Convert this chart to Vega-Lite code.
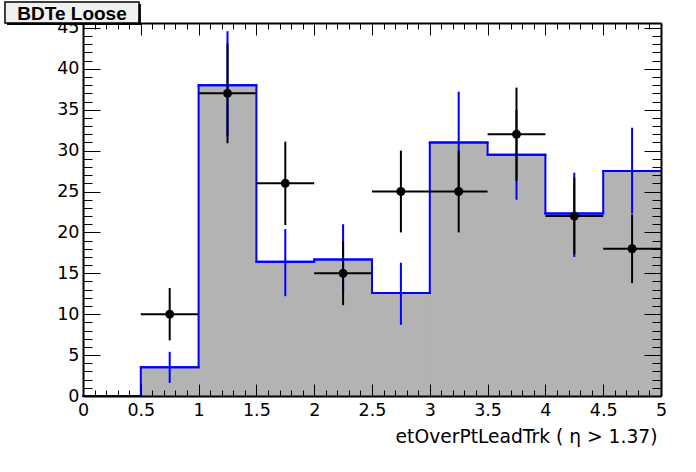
{
  "$schema": "https://vega.github.io/schema/vega-lite/v6.json",
  "width": 578,
  "height": 373,
  "autosize": "none",
  "padding": {"left": 83, "top": 23, "right": 35, "bottom": 76},
  "background": "white",
  "config": {"view": {"stroke": null}, "font": "Liberation Sans"},
  "datasets": {
    "mc": [
      {"lo": 0, "hi": 0.5, "x": 0.25, "value": 0, "errLo": 0, "errHi": 0},
      {"lo": 0.5, "hi": 1, "x": 0.75, "value": 3.5, "errLo": 1.6, "errHi": 5.4},
      {"lo": 1, "hi": 1.5, "x": 1.25, "value": 38, "errLo": 31.8, "errHi": 44.6},
      {"lo": 1.5, "hi": 2, "x": 1.75, "value": 16.4, "errLo": 12.2, "errHi": 20.4},
      {"lo": 2, "hi": 2.5, "x": 2.25, "value": 16.7, "errLo": 12.6, "errHi": 21.0},
      {"lo": 2.5, "hi": 3, "x": 2.75, "value": 12.6, "errLo": 8.7, "errHi": 16.3},
      {"lo": 3, "hi": 3.5, "x": 3.25, "value": 31.0, "errLo": 25.4, "errHi": 37.2},
      {"lo": 3.5, "hi": 4, "x": 3.75, "value": 29.5, "errLo": 24.0, "errHi": 35.0},
      {"lo": 4, "hi": 4.5, "x": 4.25, "value": 22.3, "errLo": 17.0, "errHi": 27.3},
      {"lo": 4.5, "hi": 5, "x": 4.75, "value": 27.5, "errLo": 22.3, "errHi": 32.8}
    ],
    "obs": [
      {"lo": 0.5, "hi": 1, "x": 0.75, "value": 10, "errLo": 6.8, "errHi": 13.2},
      {"lo": 1, "hi": 1.5, "x": 1.25, "value": 37, "errLo": 30.9, "errHi": 43.1},
      {"lo": 1.5, "hi": 2, "x": 1.75, "value": 26, "errLo": 20.9, "errHi": 31.1},
      {"lo": 2, "hi": 2.5, "x": 2.25, "value": 15, "errLo": 11.1, "errHi": 18.9},
      {"lo": 2.5, "hi": 3, "x": 2.75, "value": 25, "errLo": 20.0, "errHi": 30.0},
      {"lo": 3, "hi": 3.5, "x": 3.25, "value": 25, "errLo": 20.0, "errHi": 30.0},
      {"lo": 3.5, "hi": 4, "x": 3.75, "value": 32, "errLo": 26.3, "errHi": 37.7},
      {"lo": 4, "hi": 4.5, "x": 4.25, "value": 22, "errLo": 17.3, "errHi": 26.7},
      {"lo": 4.5, "hi": 5, "x": 4.75, "value": 18, "errLo": 13.8, "errHi": 22.2}
    ]
  },
  "layer": [
    {
      "data": {"name": "mc"},
      "mark": {"type": "rect", "fill": "#b3b3b3", "stroke": "#b3b3b3", "strokeWidth": 1},
      "encoding": {
        "x": {"field": "lo", "type": "quantitative", "scale": {"domain": [0, 5], "nice": false, "zero": false},
          "axis": {"orient": "bottom", "zindex": 1, "grid": false,
            "values": [0,0.1,0.2,0.3,0.4,0.5,0.6,0.7,0.8,0.9,1,1.1,1.2,1.3,1.4,1.5,1.6,1.7,1.8,1.9,2,2.1,2.2,2.3,2.4,2.5,2.6,2.7,2.8,2.9,3,3.1,3.2,3.3,3.4,3.5,3.6,3.7,3.8,3.9,4,4.1,4.2,4.3,4.4,4.5,4.6,4.7,4.8,4.9,5],
            "tickSize": {"condition": {"test": "abs(datum.value*2-round(datum.value*2))<0.001", "value": -12}, "value": -6},
            "tickColor": "black", "tickWidth": 1,
            "domainColor": "black", "domainWidth": 2,
            "labelExpr": "abs(datum.value*2-round(datum.value*2))<0.001 ? ''+datum.value : ''",
            "labelFont": "DejaVu Sans", "labelFontSize": 17.5, "labelColor": "black", "labelPadding": 17,
            "labelFlush": false, "labelOverlap": false, "labelBound": false,
            "title": "etOverPtLeadTrk ( η > 1.37)", "titleFont": "DejaVu Sans", "titleFontSize": 18.7, "titleFontWeight": "normal", "titleColor": "black",
            "titleAlign": "right", "titleAnchor": "end", "titleX": 574, "titleY": 46, "titleBaseline": "alphabetic"}},
        "x2": {"field": "hi"},
        "y": {"field": "value", "type": "quantitative", "scale": {"domain": [0, 45.6], "nice": false},
          "axis": {"orient": "left", "zindex": 0, "grid": false,
            "values": [0,1,2,3,4,5,6,7,8,9,10,11,12,13,14,15,16,17,18,19,20,21,22,23,24,25,26,27,28,29,30,31,32,33,34,35,36,37,38,39,40,41,42,43,44,45],
            "tickSize": {"condition": {"test": "datum.value % 5 == 0", "value": -17}, "value": -9},
            "tickColor": "black", "tickWidth": 1,
            "domainColor": "black", "domainWidth": 2,
            "labelExpr": "datum.value % 5 == 0 ? ''+datum.value : ''",
            "labelFont": "DejaVu Sans", "labelFontSize": 17.5, "labelColor": "black", "labelPadding": 21,
            "labelFlush": false, "labelOverlap": false, "labelBound": false,
            "title": null}},
        "y2": {"datum": 0}
      }
    },
    {
      "data": {"name": "mc"},
      "mark": {"type": "line", "color": "#0000ff", "strokeWidth": 2, "interpolate": "step"},
      "encoding": {
        "x": {"field": "x", "type": "quantitative", "scale": {"domain": [0, 5], "nice": false, "zero": false},
          "axis": {"orient": "top", "zindex": 0, "grid": false,
            "values": [0,0.1,0.2,0.3,0.4,0.5,0.6,0.7,0.8,0.9,1,1.1,1.2,1.3,1.4,1.5,1.6,1.7,1.8,1.9,2,2.1,2.2,2.3,2.4,2.5,2.6,2.7,2.8,2.9,3,3.1,3.2,3.3,3.4,3.5,3.6,3.7,3.8,3.9,4,4.1,4.2,4.3,4.4,4.5,4.6,4.7,4.8,4.9,5],
            "tickSize": {"condition": {"test": "abs(datum.value*2-round(datum.value*2))<0.001", "value": -12}, "value": -6},
            "tickColor": "black", "tickWidth": 1,
            "domainColor": "black", "domainWidth": 2,
            "labels": false, "title": null}},
        "y": {"field": "value", "type": "quantitative", "scale": {"domain": [0, 45.6], "nice": false},
          "axis": {"orient": "right", "zindex": 1, "grid": false,
            "values": [0,1,2,3,4,5,6,7,8,9,10,11,12,13,14,15,16,17,18,19,20,21,22,23,24,25,26,27,28,29,30,31,32,33,34,35,36,37,38,39,40,41,42,43,44,45],
            "tickSize": {"condition": {"test": "datum.value % 5 == 0", "value": -17}, "value": -9},
            "tickColor": "black", "tickWidth": 1,
            "domainColor": "black", "domainWidth": 2,
            "labels": false, "title": null}}
      }
    },
    {
      "data": {"name": "mc"},
      "mark": {"type": "rule", "color": "#0000ff", "strokeWidth": 2, "strokeCap": "square"},
      "encoding": {
        "x": {"field": "lo", "type": "quantitative", "scale": {"domain": [0, 5], "nice": false, "zero": false}, "axis": null},
        "x2": {"field": "hi"},
        "y": {"field": "value", "type": "quantitative", "scale": {"domain": [0, 45.6], "nice": false}, "axis": null}
      }
    },
    {
      "data": {"name": "mc"},
      "mark": {"type": "rule", "color": "#0000ff", "strokeWidth": 2},
      "encoding": {
        "x": {"field": "x", "type": "quantitative", "scale": {"domain": [0, 5], "nice": false, "zero": false}, "axis": null},
        "y": {"field": "errLo", "type": "quantitative", "scale": {"domain": [0, 45.6], "nice": false}, "axis": null},
        "y2": {"field": "errHi"}
      }
    },
    {
      "data": {"name": "obs"},
      "mark": {"type": "rule", "color": "black", "strokeWidth": 2},
      "encoding": {
        "x": {"field": "x", "type": "quantitative", "scale": {"domain": [0, 5], "nice": false, "zero": false}, "axis": null},
        "y": {"field": "errLo", "type": "quantitative", "scale": {"domain": [0, 45.6], "nice": false}, "axis": null},
        "y2": {"field": "errHi"}
      }
    },
    {
      "data": {"name": "obs"},
      "mark": {"type": "rule", "color": "black", "strokeWidth": 2},
      "encoding": {
        "x": {"field": "lo", "type": "quantitative", "scale": {"domain": [0, 5], "nice": false, "zero": false}, "axis": null},
        "x2": {"field": "hi"},
        "y": {"field": "value", "type": "quantitative", "scale": {"domain": [0, 45.6], "nice": false}, "axis": null}
      }
    },
    {
      "data": {"name": "obs"},
      "mark": {"type": "point", "filled": true, "color": "black", "opacity": 1, "size": 80},
      "encoding": {
        "x": {"field": "x", "type": "quantitative", "scale": {"domain": [0, 5], "nice": false, "zero": false}, "axis": null},
        "y": {"field": "value", "type": "quantitative", "scale": {"domain": [0, 45.6], "nice": false}, "axis": null}
      }
    },
    {
      "data": {"values": [{"label": "BDTe Loose"}]},
      "mark": {"type": "rect", "color": "black"},
      "encoding": {
        "x": {"datum": -0.658, "type": "quantitative", "scale": {"domain": [0, 5], "nice": false, "zero": false}, "axis": null},
        "x2": {"datum": 0.501},
        "y": {"datum": 47.93, "type": "quantitative", "scale": {"domain": [0, 45.6], "nice": false}, "axis": null},
        "y2": {"datum": 45.35}
      }
    },
    {
      "data": {"values": [{"label": "BDTe Loose"}]},
      "mark": {"type": "rect", "fill": "#f0f0f0", "stroke": "black", "strokeWidth": 1.5},
      "encoding": {
        "x": {"datum": -0.675, "type": "quantitative", "scale": {"domain": [0, 5], "nice": false, "zero": false}, "axis": null},
        "x2": {"datum": 0.484},
        "y": {"datum": 48.17, "type": "quantitative", "scale": {"domain": [0, 45.6], "nice": false}, "axis": null},
        "y2": {"datum": 45.6}
      }
    },
    {
      "data": {"values": [{"label": "BDTe Loose"}]},
      "mark": {"type": "text", "fontSize": 19, "fontWeight": "bold", "align": "center", "baseline": "middle", "color": "black"},
      "encoding": {
        "x": {"datum": -0.095, "type": "quantitative", "scale": {"domain": [0, 5], "nice": false, "zero": false}, "axis": null},
        "y": {"datum": 46.64, "type": "quantitative", "scale": {"domain": [0, 45.6], "nice": false}, "axis": null},
        "text": {"field": "label"}
      }
    }
  ],
  "resolve": {"axis": {"x": "independent", "y": "independent"}}
}
